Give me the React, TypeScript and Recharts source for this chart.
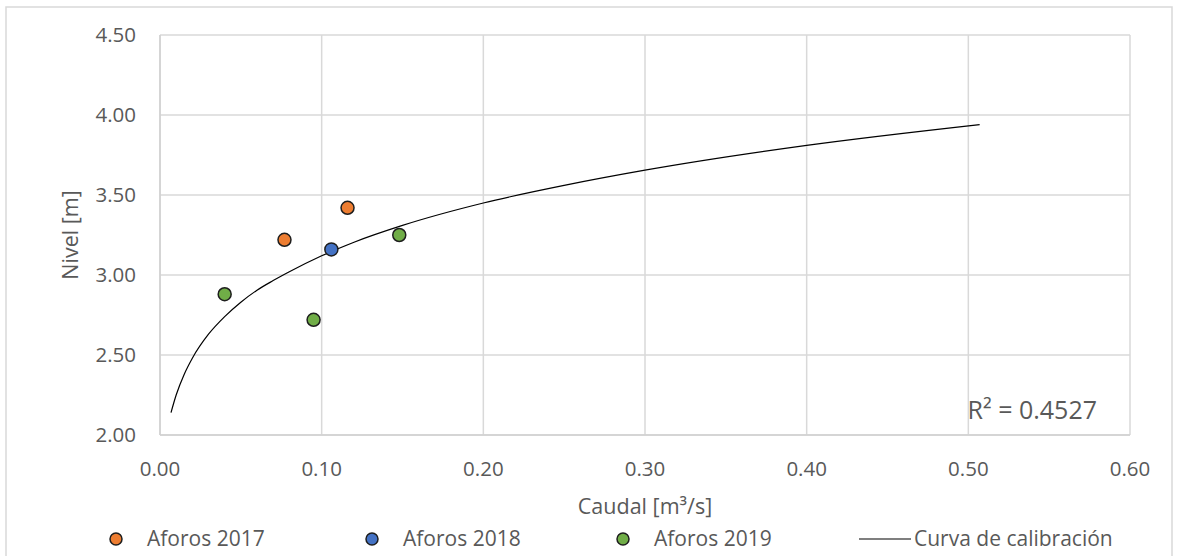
import React from 'react';
import { ComposedChart, Scatter, Line, XAxis, YAxis, CartesianGrid } from 'recharts';

// Measured points (Caudal [m³/s], Nivel [m])
const aforos2017 = [
  { x: 0.077, y: 3.22 },
  { x: 0.116, y: 3.42 },
];
const aforos2018 = [{ x: 0.106, y: 3.16 }];
const aforos2019 = [
  { x: 0.04, y: 2.88 },
  { x: 0.095, y: 2.72 },
  { x: 0.148, y: 3.25 },
];

// Calibration curve, read along the drawn trendline
const curveX = [0.0068, 0.01, 0.015, 0.02, 0.03, 0.04, 0.05, 0.06, 0.07, 0.08, 0.1, 0.12, 0.15, 0.2, 0.25, 0.3, 0.4, 0.507];
const curveY = [2.14, 2.25, 2.38, 2.48, 2.63, 2.74, 2.83, 2.905, 2.965, 3.02, 3.12, 3.205, 3.31, 3.45, 3.56, 3.655, 3.81, 3.94];
const curve = curveX.map((x, i) => ({ x, y: curveY[i] }));

const xTicks = [0, 0.1, 0.2, 0.3, 0.4, 0.5, 0.6];
const yTicks = [2.0, 2.5, 3.0, 3.5, 4.0, 4.5];

const r2Label = 'R² = 0.4527';
const legendItems = [
  { name: 'Aforos 2017', color: '#ED7D31', type: 'dot', mx: 116, tx: 147 },
  { name: 'Aforos 2018', color: '#4472C4', type: 'dot', mx: 372, tx: 403 },
  { name: 'Aforos 2019', color: '#70AD47', type: 'dot', mx: 623, tx: 654 },
  { name: 'Curva de calibración', color: '#000000', type: 'line', mx: 859, tx: 914 },
];

const FONT = '"Open Sans", "Noto Sans", sans-serif';
const TEXT = '#595959';
const GRID = '#d9d9d9';

const makeDot = (fill: string) => (props: any) => (
  <circle cx={props.cx} cy={props.cy} r={6.5} fill={fill} stroke="#1e1e1e" strokeWidth={1.5} />
);

export default function App() {
  return (
    <div style={{ position: 'absolute', left: 0, top: 0, width: 1179, height: 556, background: '#fff', fontFamily: FONT }}>
      <ComposedChart width={1179} height={556} margin={{ top: 35, right: 49, bottom: 0, left: 0 }}>
        <CartesianGrid stroke={GRID} strokeWidth={1.5} />
        <XAxis
          type="number"
          dataKey="x"
          domain={[0, 0.6]}
          ticks={xTicks}
          tickFormatter={(v: number) => v.toFixed(2)}
          height={121}
          tickLine={false}
          tickSize={0}
          tickMargin={26}
          axisLine={{ stroke: '#d0d0d0', strokeWidth: 1.5 }}
          tick={{ fill: TEXT, fontSize: 20.5, fontFamily: FONT }}
          label={{ value: 'Caudal [m³/s]', position: 'insideBottom', offset: 42, fill: TEXT, fontSize: 21.5, fontFamily: FONT }}
        />
        <YAxis
          type="number"
          dataKey="y"
          domain={[2, 4.5]}
          ticks={yTicks}
          tickFormatter={(v: number) => v.toFixed(2)}
          width={160}
          tickLine={false}
          tickSize={0}
          tickMargin={24}
          axisLine={{ stroke: '#d0d0d0', strokeWidth: 1.5 }}
          tick={{ fill: TEXT, fontSize: 20.5, fontFamily: FONT }}
          label={{
            value: 'Nivel [m]',
            angle: -90,
            position: 'insideLeft',
            offset: 70,
            fill: TEXT,
            fontSize: 21.5,
            fontFamily: FONT,
            style: { textAnchor: 'middle' },
          }}
        />
        <Line
          data={curve}
          dataKey="y"
          type="monotone"
          stroke="#000"
          strokeWidth={1.2}
          dot={false}
          activeDot={false}
          isAnimationActive={false}
        />
        <Scatter data={aforos2017} dataKey="y" shape={makeDot('#ED7D31')} isAnimationActive={false} />
        <Scatter data={aforos2018} dataKey="y" shape={makeDot('#4472C4')} isAnimationActive={false} />
        <Scatter data={aforos2019} dataKey="y" shape={makeDot('#70AD47')} isAnimationActive={false} />
      </ComposedChart>
      <svg width={1179} height={556} style={{ position: 'absolute', left: 0, top: 0, pointerEvents: 'none' }}>
        <rect x={6} y={7} width={1166} height={560} fill="none" stroke={GRID} strokeWidth={1.5} />
        <text x={1097} y={419} textAnchor="end" fill={TEXT} fontSize={25} fontFamily={FONT}>{r2Label}</text>
        {legendItems.map((it) => (
          <g key={it.name}>
            {it.type === 'dot' ? (
              <circle cx={it.mx} cy={539} r={6} fill={it.color} stroke="#1e1e1e" strokeWidth={1.5} />
            ) : (
              <line x1={it.mx} y1={539} x2={it.mx + 52} y2={539} stroke={it.color} strokeWidth={1.2} />
            )}
            <text x={it.tx} y={546} fill={TEXT} fontSize={21} fontFamily={FONT}>{it.name}</text>
          </g>
        ))}
      </svg>
    </div>
  );
}
